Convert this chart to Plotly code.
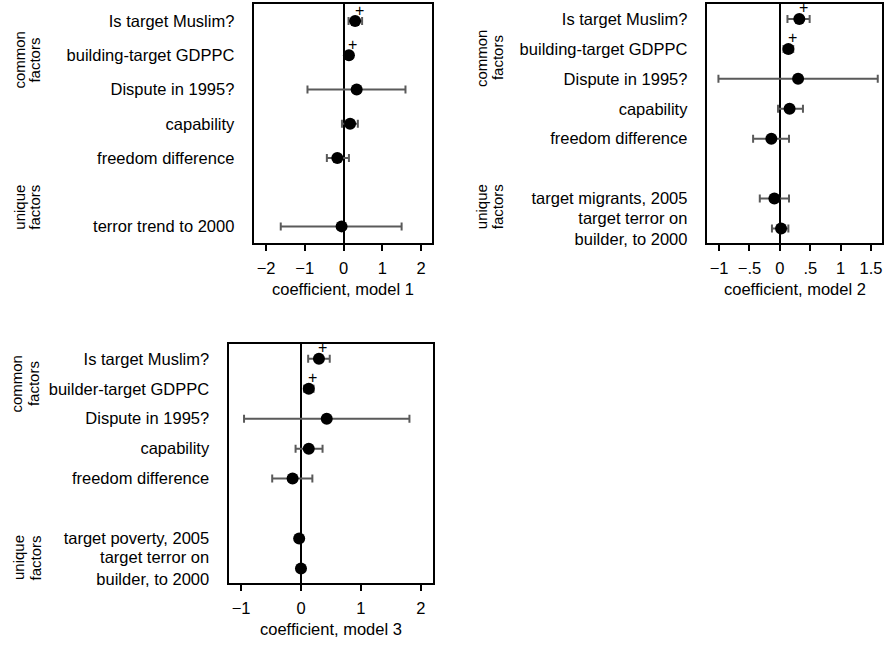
import plotly.graph_objects as go

W, H = 885, 646

# ---------------- data ----------------
p1_common = ["Is target Muslim?", "building-target GDPPC", "Dispute in 1995?", "capability", "freedom difference"]
p1_unique = ["terror trend to 2000"]
p1_est = [0.30, 0.14, 0.34, 0.17, -0.16, -0.05]
p1_lo = [0.13, 0.10, -0.93, -0.04, -0.43, -1.62]
p1_hi = [0.48, 0.18, 1.60, 0.37, 0.14, 1.50]
p1_sig = [True, True, False, False, False, False]

p2_common = ["Is target Muslim?", "building-target GDPPC", "Dispute in 1995?", "capability", "freedom difference"]
p2_unique = ["target migrants, 2005", "target terror on<br>builder, to 2000"]
p2_est = [0.32, 0.14, 0.30, 0.16, -0.14, -0.09, 0.02]
p2_lo = [0.125, 0.06, -1.01, -0.03, -0.44, -0.33, -0.13]
p2_hi = [0.49, 0.22, 1.61, 0.38, 0.15, 0.15, 0.14]
p2_sig = [True, True, False, False, False, False, False]

p3_common = ["Is target Muslim?", "builder-target GDPPC", "Dispute in 1995?", "capability", "freedom difference"]
p3_unique = ["target poverty, 2005", "target terror on<br>builder, to 2000"]
p3_est = [0.30, 0.13, 0.43, 0.13, -0.14, -0.03, 0.00]
p3_lo = [0.12, 0.05, -0.95, -0.09, -0.48, -0.05, -0.02]
p3_hi = [0.48, 0.21, 1.81, 0.36, 0.19, -0.01, 0.02]
p3_sig = [True, True, False, False, False, False, False]

x_titles = ["coefficient, model 1", "coefficient, model 2", "coefficient, model 3"]
p1_ticks = [-2, -1, 0, 1, 2]
p1_ticktext = ["\u22122", "\u22121", "0", "1", "2"]
p2_ticks = [-1, -0.5, 0, 0.5, 1, 1.5]
p2_ticktext = ["\u22121", "\u2212.5", "0", ".5", "1", "1.5"]
p3_ticks = [-1, 0, 1, 2]
p3_ticktext = ["\u22121", "0", "1", "2"]

# ---------------- layout geometry (pixels) ----------------
FONT = "Liberation Sans, Arial, Helvetica, sans-serif"
FS = 16.5
GFS = 15

panels = [
    dict(common=p1_common, unique=p1_unique, est=p1_est, lo=p1_lo, hi=p1_hi, sig=p1_sig,
         ticks=p1_ticks, ticktext=p1_ticktext, xr=[-2.30, 2.29],
         px=(254.7, 432.7), py=(4, 245), title=x_titles[0],
         grp=dict(cx=(20, 35), cy=60, ux=(20, 35), uy=208)),
    dict(common=p2_common, unique=p2_unique, est=p2_est, lo=p2_lo, hi=p2_hi, sig=p2_sig,
         ticks=p2_ticks, ticktext=p2_ticktext, xr=[-1.19, 1.68],
         px=(708.3, 883), py=(4, 245), title=x_titles[1],
         grp=dict(cx=(482, 498), cy=58, ux=(482, 498), uy=208)),
    dict(common=p3_common, unique=p3_unique, est=p3_est, lo=p3_lo, hi=p3_hi, sig=p3_sig,
         ticks=p3_ticks, ticktext=p3_ticktext, xr=[-1.197, 2.195],
         px=(229.5, 433), py=(346, 587), title=x_titles[2],
         grp=dict(cx=(17, 33.5), cy=386, ux=(18.5, 36), uy=561)),
]

fig = go.Figure()
annotations = []
layout = {}

for i, p in enumerate(panels):
    n = i + 1
    xa = "x" if n == 1 else f"x{n}"
    ya = "y" if n == 1 else f"y{n}"
    xkey = "xaxis" if n == 1 else f"xaxis{n}"
    ykey = "yaxis" if n == 1 else f"yaxis{n}"

    labels = p["common"] + p["unique"]
    nc = len(p["common"])
    rows = list(range(1, nc + 1)) + [nc + 2 + k for k in range(len(p["unique"]))]
    nrows = rows[-1]

    err_plus = [h - e for h, e in zip(p["hi"], p["est"])]
    err_minus = [e - l for e, l in zip(p["est"], p["lo"])]

    fig.add_trace(go.Scatter(
        x=p["est"], y=rows, mode="markers", xaxis=xa, yaxis=ya,
        marker=dict(color="black", size=12),
        error_x=dict(type="data", symmetric=False, array=err_plus, arrayminus=err_minus,
                     color="#5a5a5a", thickness=2, width=4),
        showlegend=False, hoverinfo="skip",
    ))

    for e, r, s in zip(p["est"], rows, p["sig"]):
        if s:
            annotations.append(dict(x=e, y=r, xref=xa, yref=ya, text="+", showarrow=False,
                                    xshift=4, yshift=11, font=dict(family=FONT, size=16, color="#000000")))

    x0, x1 = p["px"]
    y0, y1 = p["py"]
    layout[xkey] = dict(
        domain=[x0 / W, x1 / W], anchor=ya, range=p["xr"],
        tickvals=p["ticks"], ticktext=p["ticktext"],
        ticks="outside", ticklen=6, tickwidth=1.5, tickcolor="black",
        showline=True, linecolor="black", linewidth=1.5, mirror=True,
        showgrid=False, zeroline=True, zerolinecolor="black", zerolinewidth=1.6,
        tickfont=dict(family=FONT, size=FS, color="black"),
        ticklabelstandoff=3,
    )
    layout[ykey] = dict(
        domain=[1 - y1 / H, 1 - y0 / H], anchor=xa, range=[nrows + 0.5, 0.5],
        tickvals=rows, ticktext=labels, ticks="",
        showline=True, linecolor="black", linewidth=1.5, mirror=True,
        showgrid=False, zeroline=False,
        tickfont=dict(family=FONT, size=FS, color="black"),
        ticklabelstandoff=15,
    )

    # x-axis title
    annotations.append(dict(x=0.5, xref=f"{xa} domain", y=1 - (y1 + 46) / H, yref="paper",
                            text=p["title"], showarrow=False, xanchor="center", yanchor="middle",
                            font=dict(family=FONT, size=FS, color="black")))

    # group labels
    g = p["grp"]
    for (txt, gx, gy) in [("common", g["cx"][0], g["cy"]), ("factors", g["cx"][1], g["cy"]),
                          ("unique", g["ux"][0], g["uy"]), ("factors", g["ux"][1], g["uy"])]:
        annotations.append(dict(x=gx / W, y=1 - gy / H, xref="paper", yref="paper", text=txt,
                                textangle=-90, showarrow=False, xanchor="center", yanchor="middle",
                                font=dict(family=FONT, size=GFS, color="black")))

fig.update_layout(
    width=W, height=H, margin=dict(l=0, r=0, t=0, b=0),
    paper_bgcolor="white", plot_bgcolor="white",
    font=dict(family=FONT, size=FS, color="black"),
    annotations=annotations, **layout,
)

fig.write_html(
    "out.html",
    config={"displayModeBar": False},
    post_script="document.body.style.margin='0px';document.body.style.padding='0px';document.body.style.overflow='hidden';",
)
